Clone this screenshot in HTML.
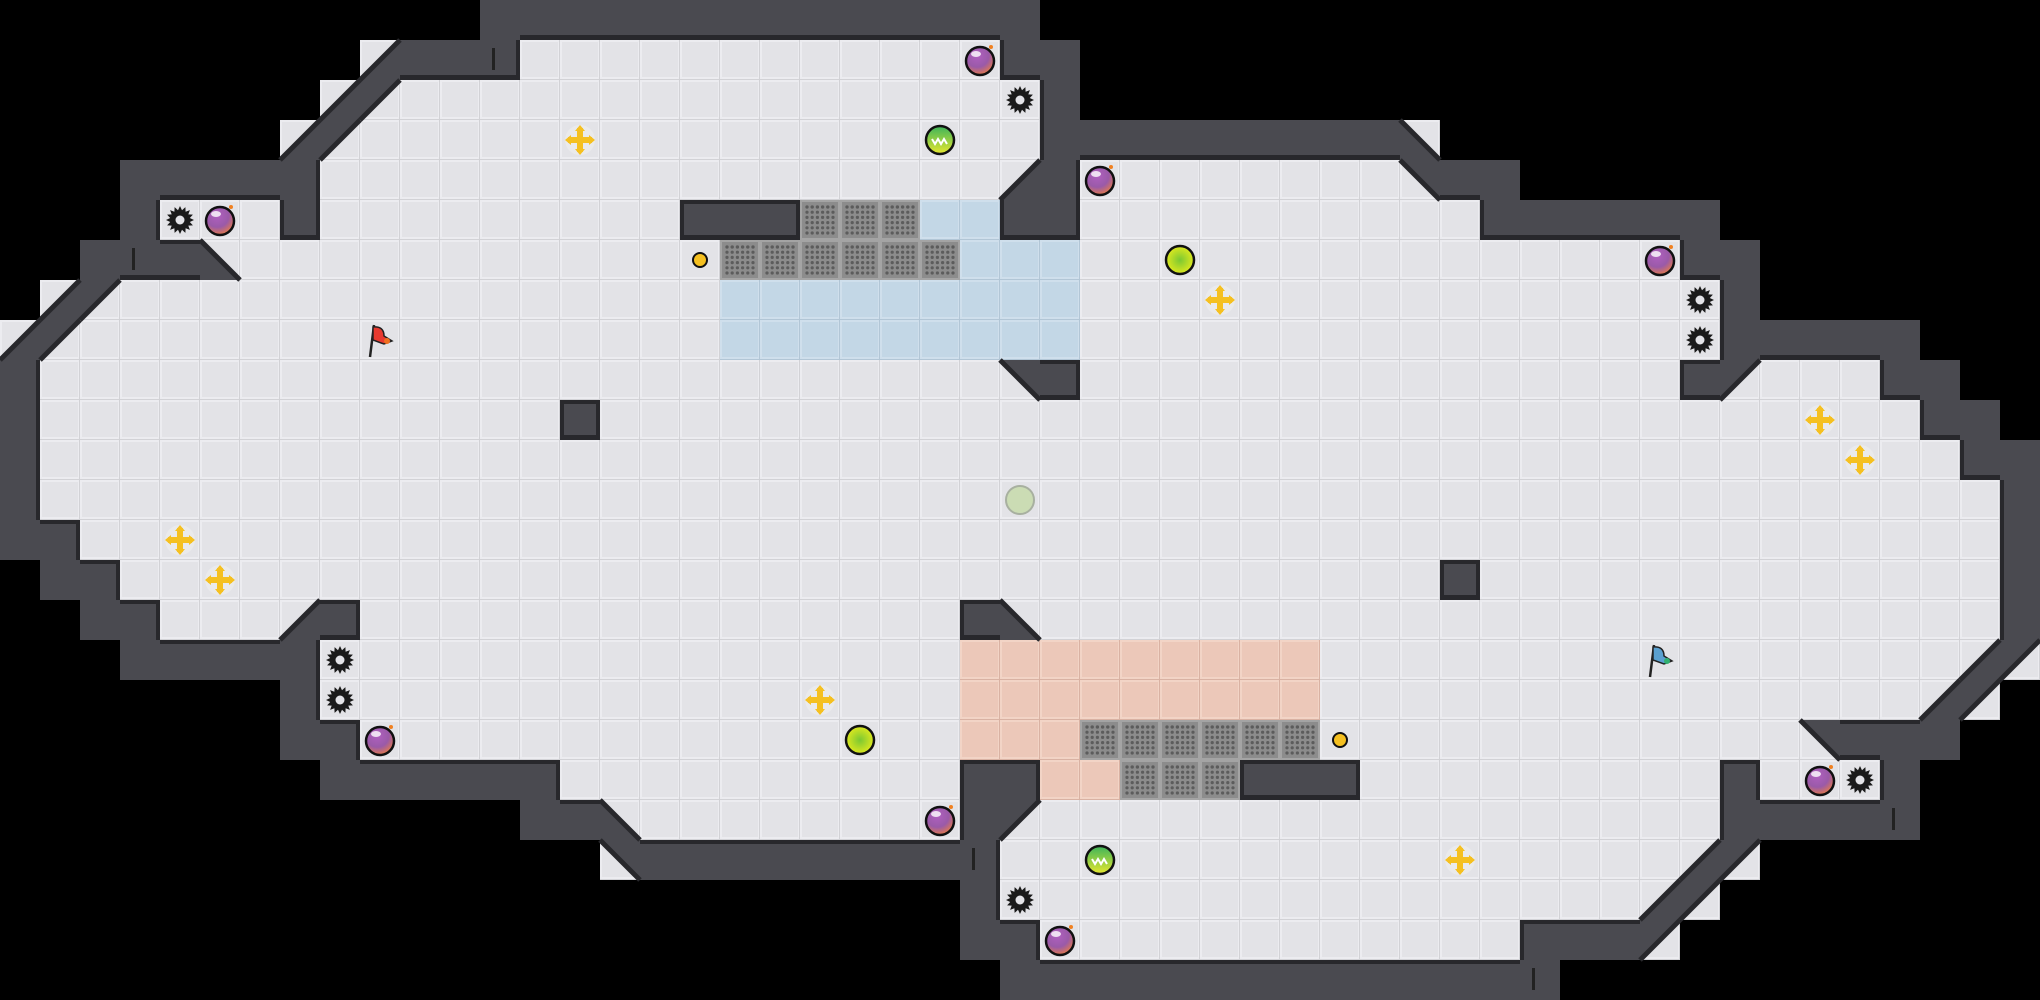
<!DOCTYPE html>
<html><head><meta charset="utf-8"><style>
html,body{margin:0;padding:0;background:#000;}
#m{display:block}
</style></head><body>
<svg id="m" width="2040" height="1000" xmlns="http://www.w3.org/2000/svg">
<defs>
<pattern id="gp" width="40" height="40" patternUnits="userSpaceOnUse">
<rect width="40" height="40" fill="#8c8c8c"/>
<rect x="1" y="1" width="38" height="38" fill="none" stroke="#a4a4a4" stroke-width="2"/>
<g fill="#5c5c5c">
<circle cx="7" cy="7" r="1.6"/><circle cx="12.2" cy="7" r="1.6"/><circle cx="17.4" cy="7" r="1.6"/><circle cx="22.6" cy="7" r="1.6"/><circle cx="27.8" cy="7" r="1.6"/><circle cx="33" cy="7" r="1.6"/>
</g>
</pattern>
<radialGradient id="bombg" cx="40%" cy="30%" r="70%"><stop offset="0" stop-color="#b060c0"/><stop offset="0.6" stop-color="#9a5aa8"/><stop offset="1" stop-color="#e07850"/></radialGradient>
<radialGradient id="yg" cx="50%" cy="50%" r="55%"><stop offset="0" stop-color="#7cc832"/><stop offset="1" stop-color="#e8ec1c"/></radialGradient>
<linearGradient id="gg" x1="0" y1="0" x2="0" y2="1"><stop offset="0" stop-color="#3cb45a"/><stop offset="1" stop-color="#e8e830"/></linearGradient>
</defs>
<g id="tiles"></g>
<g id="items"></g>
</svg>
<script>
var W=51,H=25,T=40;
var g=[];for(var r=0;r<H;r++){g.push([]);for(var c=0;c<W;c++)g[r].push(' ');}
function f(r,a,b,ch){for(var c=a;c<=b;c++)g[r][c]=ch;}
f(0,12,25,'#');
f(1,9,9,'a');f(1,10,12,'#');f(1,13,24,'.');f(1,25,26,'#');
f(2,8,8,'a');f(2,9,9,'c');f(2,10,25,'.');f(2,26,26,'#');
f(3,7,7,'a');f(3,8,8,'c');f(3,9,25,'.');f(3,26,34,'#');f(3,35,35,'b');
f(4,3,7,'#');f(4,8,24,'.');f(4,25,25,'a');f(4,26,26,'#');f(4,27,34,'.');f(4,35,35,'d');f(4,36,37,'#');
f(5,3,3,'#');f(5,4,6,'.');f(5,7,7,'#');f(5,8,16,'.');f(5,17,19,'#');f(5,20,22,'G');f(5,23,24,'B');f(5,25,26,'#');f(5,27,36,'.');f(5,37,42,'#');
f(6,2,4,'#');f(6,5,5,'b');f(6,6,17,'.');f(6,18,23,'G');f(6,24,26,'B');f(6,27,41,'.');f(6,42,43,'#');
f(7,1,1,'a');f(7,2,2,'c');f(7,3,17,'.');f(7,18,26,'B');f(7,27,42,'.');f(7,43,43,'#');
f(8,0,0,'a');f(8,1,1,'c');f(8,2,17,'.');f(8,18,26,'B');f(8,27,42,'.');f(8,43,47,'#');
f(9,0,0,'#');f(9,1,24,'.');f(9,25,25,'d');f(9,26,26,'#');f(9,27,41,'.');f(9,42,42,'#');f(9,43,43,'c');f(9,44,46,'.');f(9,47,48,'#');
f(10,0,0,'#');f(10,1,13,'.');f(10,14,14,'#');f(10,15,47,'.');f(10,48,49,'#');
f(11,0,0,'#');f(11,1,48,'.');f(11,49,50,'#');
f(12,0,0,'#');f(12,1,49,'.');f(12,50,50,'#');
f(13,0,1,'#');f(13,2,49,'.');f(13,50,50,'#');
f(14,1,2,'#');f(14,3,35,'.');f(14,36,36,'#');f(14,37,49,'.');f(14,50,50,'#');
f(15,2,3,'#');f(15,4,6,'.');f(15,7,7,'a');f(15,8,8,'#');f(15,9,23,'.');f(15,24,24,'#');f(15,25,25,'b');f(15,26,49,'.');f(15,50,50,'#');
f(16,3,7,'#');f(16,8,23,'.');f(16,24,32,'R');f(16,33,48,'.');f(16,49,49,'a');f(16,50,50,'c');
f(17,7,7,'#');f(17,8,23,'.');f(17,24,32,'R');f(17,33,47,'.');f(17,48,48,'a');f(17,49,49,'c');
f(18,7,8,'#');f(18,9,23,'.');f(18,24,26,'R');f(18,27,32,'G');f(18,33,44,'.');f(18,45,45,'d');f(18,46,48,'#');
f(19,8,13,'#');f(19,14,23,'.');f(19,24,25,'#');f(19,26,27,'R');f(19,28,30,'G');f(19,31,33,'#');f(19,34,42,'.');f(19,43,43,'#');f(19,44,46,'.');f(19,47,47,'#');
f(20,13,14,'#');f(20,15,15,'b');f(20,16,23,'.');f(20,24,24,'#');f(20,25,25,'c');f(20,26,42,'.');f(20,43,47,'#');
f(21,15,15,'d');f(21,16,24,'#');f(21,25,41,'.');f(21,42,42,'a');f(21,43,43,'c');
f(22,24,24,'#');f(22,25,40,'.');f(22,41,41,'a');f(22,42,42,'c');
f(23,24,25,'#');f(23,26,37,'.');f(23,38,40,'#');f(23,41,41,'c');
f(24,25,38,'#');

var NS="http://www.w3.org/2000/svg";
var out=[];
var WALL="#4a4a50",EDGE="#28282c";
function floorTile(x,y,fill,hi,lo){
 return '<rect x="'+x+'" y="'+y+'" width="40" height="40" fill="'+lo+'"/>'+
 '<rect x="'+x+'" y="'+y+'" width="39" height="39" fill="'+hi+'"/>'+
 '<rect x="'+(x+2)+'" y="'+(y+2)+'" width="36" height="35" fill="'+fill+'"/>';
}
function isW(ch){return ch=='#';}
function isOpen(ch){return ch!='#'&&ch!=' ';}
for(var r=0;r<H;r++)for(var c=0;c<W;c++){
 var ch=g[r][c],x=c*T,y=r*T;
 if(ch==' ')continue;
 if(ch=='#'){out.push('<rect x="'+x+'" y="'+y+'" width="40" height="40" fill="'+WALL+'"/>');continue;}
 if(ch=='B'){out.push(floorTile(x,y,'#c3d7e6','#cfdfec','#b2c6d6'));continue;}
 if(ch=='R'){out.push(floorTile(x,y,'#ecc8b9','#f2d4c6','#d9b2a3'));continue;}
 if(ch=='G'){out.push('<rect x="'+x+'" y="'+y+'" width="40" height="40" fill="url(#gp)"/>');
   var s='';for(var i=0;i<6;i++)for(var j=0;j<6;j++)s+='<circle cx="'+(x+7+j*5.2)+'" cy="'+(y+7+i*5.2)+'" r="1.6" fill="#5c5c5c"/>';out.push(s);continue;}
 out.push(floorTile(x,y,'#e3e3e7','#ececf0','#d2d2d6'));
 var p;
 if(ch=='a')p=[[x+40,y],[x+40,y+40],[x,y+40]];
 if(ch=='b')p=[[x,y],[x+40,y+40],[x,y+40]];
 if(ch=='c')p=[[x,y],[x+40,y],[x,y+40]];
 if(ch=='d')p=[[x,y],[x+40,y],[x+40,y+40]];
 if(p){out.push('<polygon points="'+p.map(function(q){return q.join(',')}).join(' ')+'" fill="'+WALL+'"/>');}
}
// edges
for(var r=0;r<H;r++)for(var c=0;c<W;c++){
 var ch=g[r][c],x=c*T,y=r*T;
 if(ch=='#'){
  function nb(rr,cc){if(rr<0||cc<0||rr>=H||cc>=W)return ' ';return g[rr][cc];}
  if(isOpen(nb(r-1,c))&&'abcd'.indexOf(nb(r-1,c))<0)out.push('<rect x="'+x+'" y="'+y+'" width="40" height="4" fill="'+EDGE+'"/>');
  if(isOpen(nb(r+1,c))&&'abcd'.indexOf(nb(r+1,c))<0)out.push('<rect x="'+x+'" y="'+(y+35)+'" width="40" height="5" fill="'+EDGE+'"/>');
  if(isOpen(nb(r,c-1))&&'abcd'.indexOf(nb(r,c-1))<0)out.push('<rect x="'+x+'" y="'+y+'" width="4" height="40" fill="'+EDGE+'"/>');
  if(isOpen(nb(r,c+1))&&'abcd'.indexOf(nb(r,c+1))<0)out.push('<rect x="'+(x+36)+'" y="'+y+'" width="4" height="40" fill="'+EDGE+'"/>');
 } else if('abcd'.indexOf(ch)>=0){
  var l;
  if(ch=='a'||ch=='c')l=[x+40,y,x,y+40]; else l=[x,y,x+40,y+40];
  out.push('<line x1="'+l[0]+'" y1="'+l[1]+'" x2="'+l[2]+'" y2="'+l[3]+'" stroke="'+EDGE+'" stroke-width="5"/>');
 }
}
document.getElementById('tiles').innerHTML=out.join('');

var items=[['bomb',24,1],['spike',25,2],['boost',14,3],['green',23,3],['spike',4,5],['bomb',5,5],['dot',17,6],
['flagR',9,8],['bomb',27,4],['yellow',29,6],['bomb',41,6],['boost',30,7],['spike',42,7],['spike',42,8],
['boost',45,10],['boost',46,11],['ghost',25,12],['boost',4,13],['boost',5,14],['spike',8,16],['flagB',41,16],
['spike',8,17],['boost',20,17],['bomb',9,18],['yellow',21,18],['dot',33,18],['bomb',45,19],['spike',46,19],
['bomb',23,20],['green',27,21],['boost',36,21],['spike',25,22],['bomb',26,23]];
var o=[];
function gear(cx,cy){
 var pts=[];for(var i=0;i<32;i++){var a=i*Math.PI/16,rr=(i%2?10:14);pts.push((cx+rr*Math.cos(a)).toFixed(1)+','+(cy+rr*Math.sin(a)).toFixed(1));}
 return '<polygon points="'+pts.join(' ')+'" fill="#1a1a1a"/><circle cx="'+cx+'" cy="'+cy+'" r="9" fill="#1a1a1a"/><circle cx="'+cx+'" cy="'+cy+'" r="4.5" fill="#e3e3e7"/>';
}
items.forEach(function(it){
 var cx=it[1]*T+20,cy=it[2]*T+20,t=it[0];
 if(t=='bomb')o.push('<circle cx="'+cx+'" cy="'+(cy+1)+'" r="14" fill="url(#bombg)" stroke="#111" stroke-width="2.5"/><ellipse cx="'+(cx-4)+'" cy="'+(cy-6)+'" rx="5" ry="3" fill="#fff" opacity="0.8"/><circle cx="'+(cx+11)+'" cy="'+(cy-13)+'" r="2" fill="#f08020"/>');
 if(t=='spike')o.push(gear(cx,cy));
 if(t=='boost')o.push('<circle cx="'+cx+'" cy="'+cy+'" r="15" fill="#eee" opacity="0.6"/><g fill="#f5c020"><rect x="'+(cx-3)+'" y="'+(cy-12)+'" width="6" height="24"/><rect x="'+(cx-12)+'" y="'+(cy-3)+'" width="24" height="6"/><polygon points="'+cx+','+(cy-15)+' '+(cx-5)+','+(cy-9)+' '+(cx+5)+','+(cy-9)+'"/><polygon points="'+cx+','+(cy+15)+' '+(cx-5)+','+(cy+9)+' '+(cx+5)+','+(cy+9)+'"/><polygon points="'+(cx-15)+','+cy+' '+(cx-9)+','+(cy-5)+' '+(cx-9)+','+(cy+5)+'"/><polygon points="'+(cx+15)+','+cy+' '+(cx+9)+','+(cy-5)+' '+(cx+9)+','+(cy+5)+'"/></g>');
 if(t=='green')o.push('<circle cx="'+cx+'" cy="'+cy+'" r="14" fill="url(#gg)" stroke="#111" stroke-width="2.5"/><path d="M'+(cx-8)+' '+(cy-1)+' l3 5 l3 -5 l3 5 l3 -5 l3 5" stroke="#fff" stroke-width="2" fill="none"/>');
 if(t=='yellow')o.push('<circle cx="'+cx+'" cy="'+cy+'" r="14" fill="url(#yg)" stroke="#111" stroke-width="2.5"/>');
 if(t=='dot')o.push('<circle cx="'+cx+'" cy="'+cy+'" r="7" fill="#f5c020" stroke="#111" stroke-width="2"/>');
 if(t=='ghost')o.push('<circle cx="'+cx+'" cy="'+cy+'" r="14" fill="#cbdcb4" stroke="#a8b0a0" stroke-width="2"/>');
 if(t=='flagR'||t=='flagB'){var col=t=='flagR'?'#e83a30':'#5aa0d0',tip=t=='flagR'?'#f07020':'#30b070';
  o.push('<line x1="'+(cx-10)+'" y1="'+(cy+17)+'" x2="'+(cx-6)+'" y2="'+(cy-15)+'" stroke="#222" stroke-width="2.5"/><path d="M'+(cx-7)+' '+(cy-13)+' Q'+(cx+4)+' '+(cy-14)+' '+(cx+4)+' '+(cy-4)+' L'+(cx+12)+' '+(cy+1)+' L'+(cx+4)+' '+(cy+4)+' L'+(cx-7)+' '+(cy)+' Z" fill="'+col+'" stroke="#222" stroke-width="1.5"/><circle cx="'+(cx+7)+'" cy="'+(cy+1)+'" r="3" fill="'+tip+'"/>');}
});
// small marks on walls
[[12,1,'v'],[3,6,'v'],[24,21,'v'],[38,24,'v'],[47,20,'v']].forEach(function(m){var x=m[0]*T+12,y=m[1]*T+8;o.push('<rect x="'+x+'" y="'+y+'" width="3" height="22" fill="#222"/>');});
document.getElementById('items').innerHTML=o.join('');
</script>
</body></html>
